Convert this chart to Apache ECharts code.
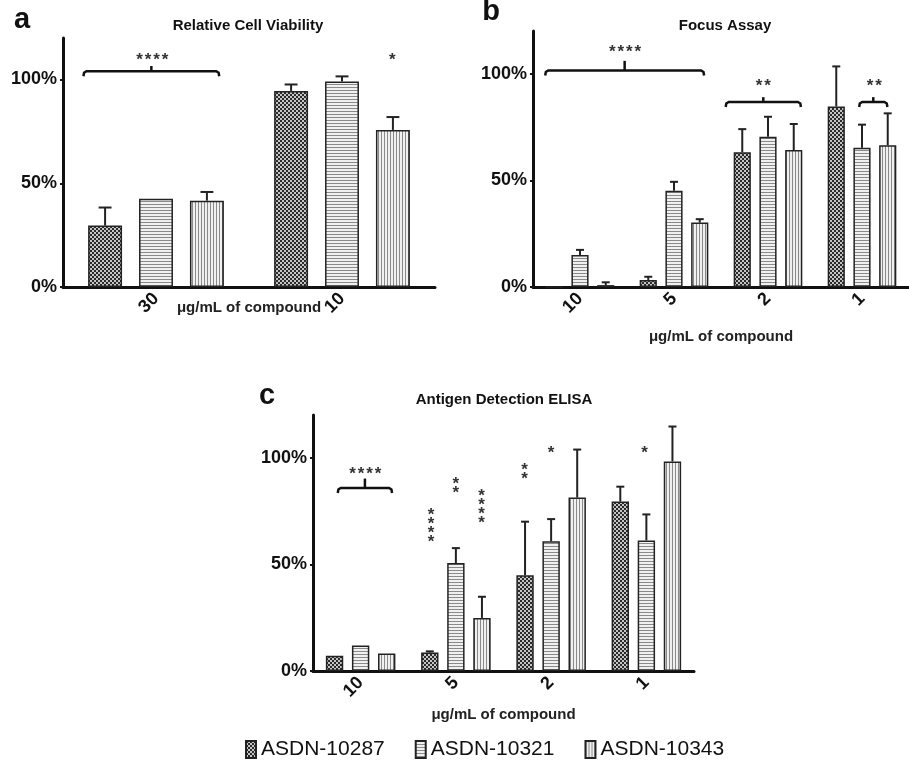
<!DOCTYPE html>
<html><head><meta charset="utf-8">
<script src="https://cdn.jsdelivr.net/npm/echarts@6/dist/echarts.min.js"></script>
<style>html,body{margin:0;padding:0;background:#fff}#c{width:909px;height:767px}</style>
</head><body><div id="c"></div><script>
// ---------- data ----------
const seriesNames = ['ASDN-10287', 'ASDN-10321', 'ASDN-10343'];
const yTicks = [0, 50, 100];

// Panel a: Relative Cell Viability
const catsA = ['30', '10'];
const a10287 = [29.6, 94.5], a10287Err = [8.7, 3.1];
const a10321 = [42.5, 99.0], a10321Err = [0, 2.5];
const a10343 = [41.6, 75.7], a10343Err = [4.2, 6.2];

// Panel b: Focus Assay
const catsB = ['10', '5', '2', '1'];
const b10287 = [0, 3.3, 63.2, 84.6], b10287Err = [0, 1.5, 10.8, 18.8];
const b10321 = [15.0, 45.1, 70.4, 65.3], b10321Err = [2.4, 4.2, 9.4, 10.8];
const b10343 = [0.9, 30.2, 64.2, 66.5], b10343Err = [1.3, 1.6, 12.2, 14.9];

// Panel c: Antigen Detection ELISA
const catsC = ['10', '5', '2', '1'];
const c10287 = [7.1, 8.7, 44.9, 79.4], c10287Err = [0, 0.5, 25.1, 7.0];
const c10321 = [11.9, 50.6, 60.8, 61.2], c10321Err = [0, 7.0, 10.4, 12.2];
const c10343 = [8.2, 24.9, 81.3, 98.2], c10343Err = [0, 9.9, 22.5, 16.4];

// significance brackets: [from (category units), to (category units), level %, tick top %]
const bracketsA = [[-0.39, 0.34, 104, 106.5]];
const bracketsB = [[-0.37, 1.32, 101.5, 106], [1.55, 2.35, 86.7, 89], [2.97, 3.27, 86.7, 89]];
const bracketsC = [[-0.24, 0.33, 85.8, 90.2]];
// stars: [x (category units), y %, count, vertical(1)/horizontal(0)]
const starsA = [[-0.02, 111, 4, 0], [1.27, 111, 1, 0]];
const starsB = [[0.48, 111.7, 4, 0], [1.95, 95.8, 2, 0], [3.13, 95.8, 2, 0]];
const starsC = [[0.05, 94.3, 4, 0], [0.74, 68.7, 4, 1], [1.0, 87.2, 2, 1], [1.27, 77.2, 4, 1],
                [1.72, 93.8, 2, 1], [2.0, 103.8, 1, 0], [2.98, 103.8, 1, 0]];

// ---------- styles ----------
const FONT = 'Liberation Sans, Arial, sans-serif';
function makePattern(kind) {
  const c = document.createElement('canvas');
  const g = c.getContext('2d');
  if (kind === 'check') {
    c.width = 4; c.height = 4;
    g.fillStyle = '#c4c4c4'; g.fillRect(0, 0, 4, 4);
    g.fillStyle = '#2a2a2a'; g.fillRect(0, 0, 2, 2); g.fillRect(2, 2, 2, 2);
  } else if (kind === 'h') {
    c.width = 4; c.height = 3;
    g.fillStyle = '#f0f0f0'; g.fillRect(0, 0, 4, 3);
    g.fillStyle = '#8a8a8a'; g.fillRect(0, 0, 4, 1);
  } else {
    c.width = 3; c.height = 4;
    g.fillStyle = '#f0f0f0'; g.fillRect(0, 0, 3, 4);
    g.fillStyle = '#8a8a8a'; g.fillRect(0, 0, 1, 4);
  }
  return { image: c, repeat: 'repeat' };
}
const fills = [makePattern('check'), makePattern('h'), makePattern('v')];

const grids = [
  { left: 63, top: 38, width: 372, height: 249 },
  { left: 533, top: 31, width: 382, height: 256 },
  { left: 313, top: 415, width: 381, height: 256 }
];
const nameGaps = [13, 42, 36];
const catSets = [catsA, catsB, catsC];

function xAxis(i) {
  return {
    type: 'category', gridIndex: i, data: catSets[i],
    name: 'μg/mL of compound', nameLocation: 'middle', nameGap: nameGaps[i], nameMoveOverlap: false,
    nameTextStyle: { fontFamily: FONT, fontWeight: 'bold', fontSize: 15, color: '#222' },
    axisLine: { lineStyle: { color: '#111', width: 3 } },
    axisTick: { alignWithLabel: true, length: 3, lineStyle: { color: '#111', width: 2 } },
    axisLabel: { rotate: 45, margin: 9, fontFamily: FONT, fontWeight: 'bold', fontSize: 18, color: '#111' },
    splitLine: { show: false }
  };
}
function yAxis(i) {
  return {
    type: 'value', gridIndex: i, min: 0, max: 120, interval: 50,
    axisLine: { show: true, lineStyle: { color: '#111', width: 3 } },
    axisTick: { show: true, length: 3, customValues: yTicks, lineStyle: { color: '#111', width: 2 } },
    axisLabel: { customValues: yTicks, margin: 6, fontFamily: FONT, fontWeight: 'bold', fontSize: 18, color: '#111',
      formatter: v => (v % 50 === 0 ? v + '%' : '') },
    splitLine: { show: false }
  };
}

function barSeries(gi, k, vals) {
  return {
    type: 'bar', name: seriesNames[k], xAxisIndex: gi, yAxisIndex: gi,
    data: vals, barGap: '50%', barCategoryGap: '27%',
    itemStyle: { color: fills[k], borderColor: '#222', borderWidth: 1.5 },
    emphasis: { disabled: true }
  };
}
function errSeries(gi, k, vals, errs) {
  return {
    type: 'custom', xAxisIndex: gi, yAxisIndex: gi, z: 4, silent: true,
    data: vals.map((v, i) => [i, v, errs[i]]),
    renderItem: (params, api) => {
      const err = api.value(2);
      if (!err) return null;
      const band = api.size([1, 0])[0];
      const bw = band * 0.73 / 4;
      const off = (k - 1) * bw * 1.5;
      const p0 = api.coord([api.value(0), api.value(1)]);
      const p1 = api.coord([api.value(0), api.value(1) + err]);
      const x = p0[0] + off;
      const cap = Math.max(bw * 0.38, 8);
      return { type: 'group', children: [
        { type: 'line', shape: { x1: x, y1: p0[1], x2: x, y2: p1[1] }, style: { stroke: '#222', lineWidth: 2 } },
        { type: 'line', shape: { x1: x - cap / 2, y1: p1[1], x2: x + cap / 2, y2: p1[1] }, style: { stroke: '#222', lineWidth: 2 } }
      ] };
    }
  };
}
function bracketSeries(gi, list) {
  return {
    type: 'custom', xAxisIndex: gi, yAxisIndex: gi, z: 4, silent: true,
    data: list,
    renderItem: (params, api) => {
      const band = api.size([1, 0])[0];
      const c0 = api.coord([0, 0])[0];
      const x1 = c0 + api.value(0) * band, x2 = c0 + api.value(1) * band;
      const y = api.coord([0, api.value(2)])[1];
      const yt = api.coord([0, api.value(3)])[1];
      const xm = (x1 + x2) / 2;
      return { type: 'group', children: [
        { type: 'polyline', shape: { points: [[x1, y + 5], [x1 + 0.6, y + 1.5], [x1 + 3, y], [x2 - 3, y], [x2 - 0.6, y + 1.5], [x2, y + 5]] },
          style: { stroke: '#111', lineWidth: 2.5, fill: null } },
        { type: 'line', shape: { x1: xm, y1: y, x2: xm, y2: yt }, style: { stroke: '#111', lineWidth: 2.5 } }
      ] };
    }
  };
}
function starSeries(gi, list) {
  return {
    type: 'custom', xAxisIndex: gi, yAxisIndex: gi, z: 4, silent: true,
    data: list,
    renderItem: (params, api) => {
      const band = api.size([1, 0])[0];
      const c0 = api.coord([0, 0])[0];
      const cx = c0 + api.value(0) * band;
      const cy = api.coord([0, api.value(1)])[1];
      const n = api.value(2), vert = api.value(3);
      const children = [];
      for (let j = 0; j < n; j++) {
        const d = (j - (n - 1) / 2);
        const x = vert ? cx : cx + d * 8.5;
        const y = vert ? cy + d * 9 : cy;
        children.push({ type: 'text', x: x, y: y + 4,
          style: { text: '*', fill: '#333', font: 'bold 17px ' + FONT, align: 'center', verticalAlign: 'middle' } });
      }
      return { type: 'group', children };
    }
  };
}

const series = [
  barSeries(0, 0, a10287), barSeries(0, 1, a10321), barSeries(0, 2, a10343),
  errSeries(0, 0, a10287, a10287Err), errSeries(0, 1, a10321, a10321Err), errSeries(0, 2, a10343, a10343Err),
  bracketSeries(0, bracketsA), starSeries(0, starsA),
  barSeries(1, 0, b10287), barSeries(1, 1, b10321), barSeries(1, 2, b10343),
  errSeries(1, 0, b10287, b10287Err), errSeries(1, 1, b10321, b10321Err), errSeries(1, 2, b10343, b10343Err),
  bracketSeries(1, bracketsB), starSeries(1, starsB),
  barSeries(2, 0, c10287), barSeries(2, 1, c10321), barSeries(2, 2, c10343),
  errSeries(2, 0, c10287, c10287Err), errSeries(2, 1, c10321, c10321Err), errSeries(2, 2, c10343, c10343Err),
  bracketSeries(2, bracketsC), starSeries(2, starsC)
];

function label(text, x, y, size) {
  return { type: 'text', x, y, silent: true,
    style: { text, fill: '#111', font: 'bold ' + size + 'px ' + FONT, align: 'center', verticalAlign: 'middle' } };
}

const chart = echarts.init(document.getElementById('c'), null, { renderer: 'canvas' });
chart.setOption({
  animation: false,
  backgroundColor: '#fff',
  grid: grids,
  xAxis: [xAxis(0), xAxis(1), xAxis(2)],
  yAxis: [yAxis(0), yAxis(1), yAxis(2)],
  legend: {
    data: seriesNames, left: 240, top: 734, icon: 'rect', itemWidth: 10, itemHeight: 17, itemGap: 30,
    selectedMode: false,
    textStyle: { fontFamily: FONT, fontSize: 21, color: '#111' }
  },
  graphic: [
    label('a', 22, 20, 29), label('b', 491, 12, 29), label('c', 267, 396, 29),
    label('Relative Cell Viability', 248, 26, 15),
    label('Focus Assay', 725, 26, 15),
    label('Antigen Detection ELISA', 504, 400, 15)
  ],
  series
});
</script></body></html>
